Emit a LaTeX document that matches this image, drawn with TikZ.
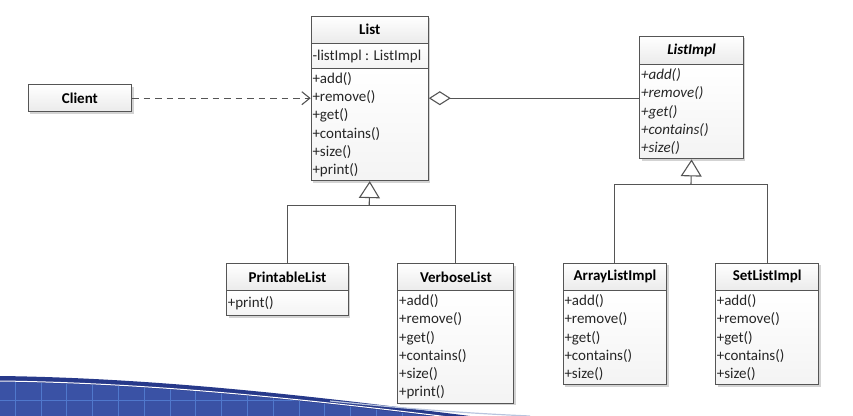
\documentclass[tikz,border=0pt]{standalone}
\usepackage{fontspec}
\setmainfont{Carlito}
\usetikzlibrary{arrows.meta,shadows,calc}
\definecolor{bord}{HTML}{555555}
\definecolor{navy}{HTML}{27398A}
\definecolor{bandblue}{HTML}{3A52A5}
\definecolor{gridblue}{HTML}{5078CC}
\definecolor{swoosh}{HTML}{B8C4DE}
\begin{document}
\begin{tikzpicture}[x=1pt,y=-1pt,
  box/.style n args={2}{draw=bord, line width=1.1pt, top color=white, bottom color=gray!16,
     drop shadow={shadow xshift=2pt, shadow yshift=-2pt, opacity=.35, fill=gray},
     anchor=north west, inner sep=0pt, minimum width=#1pt, minimum height=#2pt},
  hdr/.style={font=\fontsize{15}{18}\selectfont\bfseries},
  body/.style={bottom color=gray!9},
  txt/.style={anchor=west, align=left, inner xsep=1.6pt, inner ysep=0pt,
     font=\fontsize{15}{18.3}\selectfont, text=black!85},
  itxt/.style={txt, font=\fontsize{15}{18.3}\selectfont\itshape},
  conn/.style={draw=bord, line width=1.1pt},
  inh/.style={conn, -{Triangle[open, length=17pt, width=21pt, line width=1.1pt]}}
]
\useasboundingbox (0,0) rectangle (853,415);
% ---- decorative band
\fill[navy] (0,376) .. controls (160,378) and (320,397) .. (470,416) -- (0,416) -- cycle;
\begin{scope}
  \clip (0,382) .. controls (160,384) and (320,402) .. (460,420) -- (0,420) -- cycle;
  \fill[bandblue] (0,370) rectangle (480,420);
  \draw[gridblue, line width=1pt] (0,400) -- (480,400);
  \foreach \i in {0,...,17} \draw[gridblue, line width=1pt] ({15.3+25.8*\i},370) -- ({15.3+25.8*\i},420);
\end{scope}
\draw[white, line width=1pt] (0,381) .. controls (160,383) and (320,401) .. (465,419);
\draw[swoosh, line width=1.2pt] (330,401) .. controls (400,408) and (460,413) .. (530,416);
% ---- classes
\node[box={103.3}{26.7}, hdr] (client) at (27.7,84.3) {Client};

\node[box={117}{27}, hdr] (listH) at (310.7,15.7) {List};
\node[box={117}{25.6}, body] (listA) at (310.7,42.7) {};
\node[txt] (listAt) at (listA.west) {-listImpl : ListImpl};
\node[box={117}{111.7}, body] (listM) at (310.7,68.3) {};
\node[txt] (listMt) at (listM.west) {+add()\\+remove()\\+get()\\+contains()\\+size()\\+print()};

\node[box={103.4}{28.3}, hdr] (implH) at (639.3,35.7) {\textit{ListImpl}};
\node[box={103.4}{94.3}, body] (implM) at (639.3,64) {};
\node[itxt] (implMt) at (implM.west) {+add()\\+remove()\\+get()\\+contains()\\+size()};

\node[box={121.7}{26.7}, hdr] (printH) at (226,263.3) {PrintableList};
\node[box={121.7}{25}, body] (printM) at (226,290) {};
\node[txt] (printMt) at (printM.west) {+print()};

\node[box={116}{26.7}, hdr] (verbH) at (397.3,263.3) {VerboseList};
\node[box={116}{112.7}, body] (verbM) at (397.3,290) {};
\node[txt] (verbMt) at (verbM.west) {+add()\\+remove()\\+get()\\+contains()\\+size()\\+print()};

\node[box={103.3}{27.3}, hdr] (arrH) at (562.7,262.7) {ArrayListImpl};
\node[box={103.3}{94.3}, body] (arrM) at (562.7,290) {};
\node[txt] (arrMt) at (arrM.west) {+add()\\+remove()\\+get()\\+contains()\\+size()};

\node[box={103.3}{27.3}, hdr] (setH) at (715,262.7) {SetListImpl};
\node[box={103.3}{94.3}, body] (setM) at (715,290) {};
\node[txt] (setMt) at (setM.west) {+add()\\+remove()\\+get()\\+contains()\\+size()};

% ---- connectors
\draw[conn, dash pattern=on 6.5pt off 5pt, -{Straight Barb[length=8pt, width=13pt, line width=1.1pt]}]
  (client.east) -- (client.east -| listM.west);
\draw[conn, {Diamond[open, length=22pt, width=14pt, line width=1.1pt]}-]
  (client.east -| listM.east) -- (client.east -| implM.west);

\coordinate (busL) at (369.2,205.7);
\draw[conn] (printH.north) |- (busL) -| (verbH.north);
\draw[inh] (busL) -- (listM.south);

\coordinate (busR) at (691,184.3);
\draw[conn] (arrH.north) |- (busR) -| (setH.north);
\draw[inh] (busR) -- (implM.south);
\end{tikzpicture}
\end{document}
